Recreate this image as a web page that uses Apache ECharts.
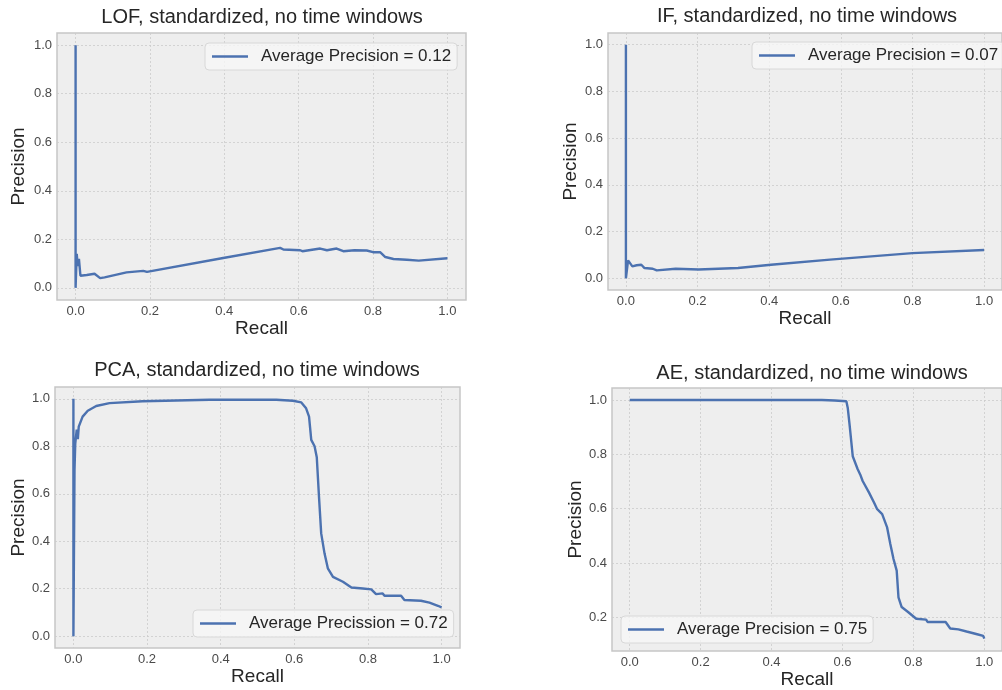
<!DOCTYPE html>
<html>
<head>
<meta charset="utf-8">
<script src="https://cdn.jsdelivr.net/npm/echarts@6/dist/echarts.min.js"></script>
<style>
    html, body { margin: 0; background: #ffffff; }
    #chart { width: 1002px; height: 690px; }
</style>
</head>
<body>
<div id="chart"></div>
<script>
    // chart data
    var titles = [
        'LOF, standardized, no time windows',
        'IF, standardized, no time windows',
        'PCA, standardized, no time windows',
        'AE, standardized, no time windows'
    ];
    var legendLabels = [
        'Average Precision = 0.12',
        'Average Precision = 0.07',
        'Average Precission = 0.72',
        'Average Precision = 0.75'
    ];
    var xTicks = [0, 0.2, 0.4, 0.6, 0.8, 1.0];
    var yTicks = [0, 0.2, 0.4, 0.6, 0.8, 1.0];
    var aeYTicks = [0.2, 0.4, 0.6, 0.8, 1.0];

    var lofRecall = [0, 0, 0.003, 0.006, 0.009, 0.013, 0.03, 0.051, 0.056, 0.066, 0.078, 0.137, 0.182, 0.192, 0.397, 0.55, 0.559, 0.604, 0.61, 0.658, 0.676, 0.702, 0.72, 0.75, 0.783, 0.8, 0.819, 0.833, 0.855, 0.891, 0.923, 1.0];
    var lofPrecision = [1.0, 0.0, 0.14, 0.09, 0.12, 0.05, 0.053, 0.058, 0.064, 0.04, 0.043, 0.064, 0.07, 0.066, 0.123, 0.165, 0.158, 0.155, 0.151, 0.162, 0.155, 0.162, 0.151, 0.155, 0.154, 0.147, 0.147, 0.127, 0.119, 0.116, 0.112, 0.122];

    var ifRecall = [0, 0, 0.006, 0.011, 0.018, 0.03, 0.043, 0.052, 0.075, 0.086, 0.139, 0.203, 0.313, 0.405, 0.57, 0.8, 1.0];
    var ifPrecision = [1.0, 0.0, 0.077, 0.08, 0.051, 0.056, 0.058, 0.044, 0.041, 0.034, 0.041, 0.038, 0.044, 0.058, 0.08, 0.108, 0.121];

    var pcaRecall = [0, 0, 0.003, 0.005, 0.009, 0.012, 0.0145, 0.025, 0.039, 0.062, 0.098, 0.188, 0.37, 0.551, 0.596, 0.619, 0.632, 0.64, 0.646, 0.655, 0.661, 0.667, 0.673, 0.682, 0.691, 0.705, 0.732, 0.755, 0.786, 0.809, 0.822, 0.84, 0.845, 0.89, 0.899, 0.944, 0.967, 0.99, 1.0];
    var pcaPrecision = [1.0, 0.0, 0.7, 0.81, 0.87, 0.83, 0.883, 0.925, 0.95, 0.97, 0.982, 0.99, 0.996, 0.996, 0.992, 0.985, 0.96, 0.925, 0.827, 0.8, 0.754, 0.588, 0.433, 0.349, 0.286, 0.25, 0.229, 0.205, 0.201, 0.197, 0.177, 0.18, 0.17, 0.17, 0.152, 0.149, 0.141, 0.128, 0.121];

    var aeRecall = [0, 0.542, 0.578, 0.611, 0.615, 0.62, 0.629, 0.643, 0.65, 0.657, 0.675, 0.689, 0.698, 0.712, 0.726, 0.735, 0.744, 0.753, 0.758, 0.767, 0.785, 0.808, 0.836, 0.84, 0.891, 0.904, 0.927, 0.95, 0.98, 0.997, 1.0];
    var aePrecision = [1.0, 1.0, 0.998, 0.995, 0.97, 0.91, 0.793, 0.745, 0.726, 0.702, 0.659, 0.623, 0.598, 0.58, 0.531, 0.47, 0.415, 0.372, 0.274, 0.238, 0.22, 0.195, 0.192, 0.183, 0.183, 0.159, 0.156, 0.148, 0.138, 0.132, 0.122];

    var curves = [
        [lofRecall, lofPrecision],
        [ifRecall, ifPrecision],
        [pcaRecall, pcaPrecision],
        [aeRecall, aePrecision]
    ];

    // panel layout in pixels
    var panels = [
        {grid: {left: 57, top: 33, width: 409, height: 267}, yMin: -0.05, yMax: 1.05, yTicks: yTicks, titleX: 262, titleTop: 7, legend: {left: 205, top: 43}, xGap: 19, yGap: 29},
        {grid: {left: 608, top: 33, width: 400, height: 257}, yMin: -0.05, yMax: 1.05, yTicks: yTicks, titleX: 807, titleTop: 6, legend: {left: 752, top: 42}, xGap: 18, yGap: 28},
        {grid: {left: 55, top: 387, width: 405, height: 261}, yMin: -0.05, yMax: 1.05, yTicks: yTicks, titleX: 257, titleTop: 360, legend: {left: 193, top: 610}, xGap: 17, yGap: 27},
        {grid: {left: 612, top: 388, width: 399, height: 266}, yMin: 0.076, yMax: 1.044, yTicks: aeYTicks, titleX: 812, titleTop: 363, legend: {left: 621, top: 616}, xGap: 17, yGap: 27}
    ];

    var FONT = '"Liberation Sans", Arial, sans-serif';
    var LINE = '#4c72b0';

    function zip(xs, ys) {
        var out = [];
        for (var i = 0; i < xs.length; i++) {
            out.push([xs[i], ys[i]]);
        }
        return out;
    }

    function fmt(v) {
        return v.toFixed(1);
    }

    var option = {
        animation: false,
        backgroundColor: '#ffffff',
        textStyle: {fontFamily: FONT},
        title: [],
        legend: [],
        grid: [],
        xAxis: [],
        yAxis: [],
        series: []
    };

    panels.forEach(function(p, i) {
        option.title.push({
            text: titles[i],
            left: p.titleX,
            top: p.titleTop,
            textAlign: 'center',
            padding: 0,
            textStyle: {fontFamily: FONT, fontSize: 20, fontWeight: 'normal', color: '#262626'}
        });

        option.grid.push({
            left: p.grid.left,
            top: p.grid.top,
            width: p.grid.width,
            height: p.grid.height,
            show: true,
            backgroundColor: '#eeeeee',
            borderColor: '#c6c6c6',
            borderWidth: 1.5,
            containLabel: false
        });

        option.xAxis.push({
            type: 'value',
            gridIndex: i,
            min: -0.05,
            max: 1.05,
            name: 'Recall',
            nameLocation: 'middle',
            nameGap: p.xGap,
            nameTextStyle: {fontFamily: FONT, fontSize: 19, color: '#262626', verticalAlign: 'top'},
            axisLine: {show: false},
            axisTick: {show: false, customValues: xTicks},
            axisLabel: {customValues: xTicks, formatter: fmt, fontSize: 13, color: '#4a4a4a', margin: 5, fontFamily: FONT},
            splitLine: {show: true, lineStyle: {color: '#cbcbcb', type: [2, 2], width: 0.8}}
        });

        option.yAxis.push({
            type: 'value',
            gridIndex: i,
            min: p.yMin,
            max: p.yMax,
            name: 'Precision',
            nameLocation: 'middle',
            nameGap: p.yGap,
            nameTextStyle: {fontFamily: FONT, fontSize: 19, color: '#262626'},
            axisLine: {show: false},
            axisTick: {show: false, customValues: p.yTicks},
            axisLabel: {customValues: p.yTicks, formatter: fmt, fontSize: 13, color: '#4a4a4a', margin: 5, fontFamily: FONT},
            splitLine: {show: true, lineStyle: {color: '#cbcbcb', type: [2, 2], width: 0.8}}
        });

        option.series.push({
            type: 'line',
            name: legendLabels[i],
            xAxisIndex: i,
            yAxisIndex: i,
            data: zip(curves[i][0], curves[i][1]),
            symbol: 'none',
            showSymbol: false,
            clip: true,
            lineStyle: {color: LINE, width: 2.4},
            itemStyle: {color: LINE}
        });

        option.legend.push({
            data: [legendLabels[i]],
            left: p.legend.left,
            top: p.legend.top,
            icon: 'rect',
            itemWidth: 36,
            itemHeight: 2.5,
            padding: [5, 6, 5, 7],
            backgroundColor: 'rgba(246,246,246,0.8)',
            borderColor: '#d8d8d8',
            borderWidth: 1,
            borderRadius: 4,
            selectedMode: false,
            textStyle: {fontFamily: FONT, fontSize: 17, color: '#262626', padding: [0, 0, 0, 8]}
        });
    });

    var chart = echarts.init(document.getElementById('chart'), null, {renderer: 'canvas'});
    chart.setOption(option);
</script>
</body>
</html>
